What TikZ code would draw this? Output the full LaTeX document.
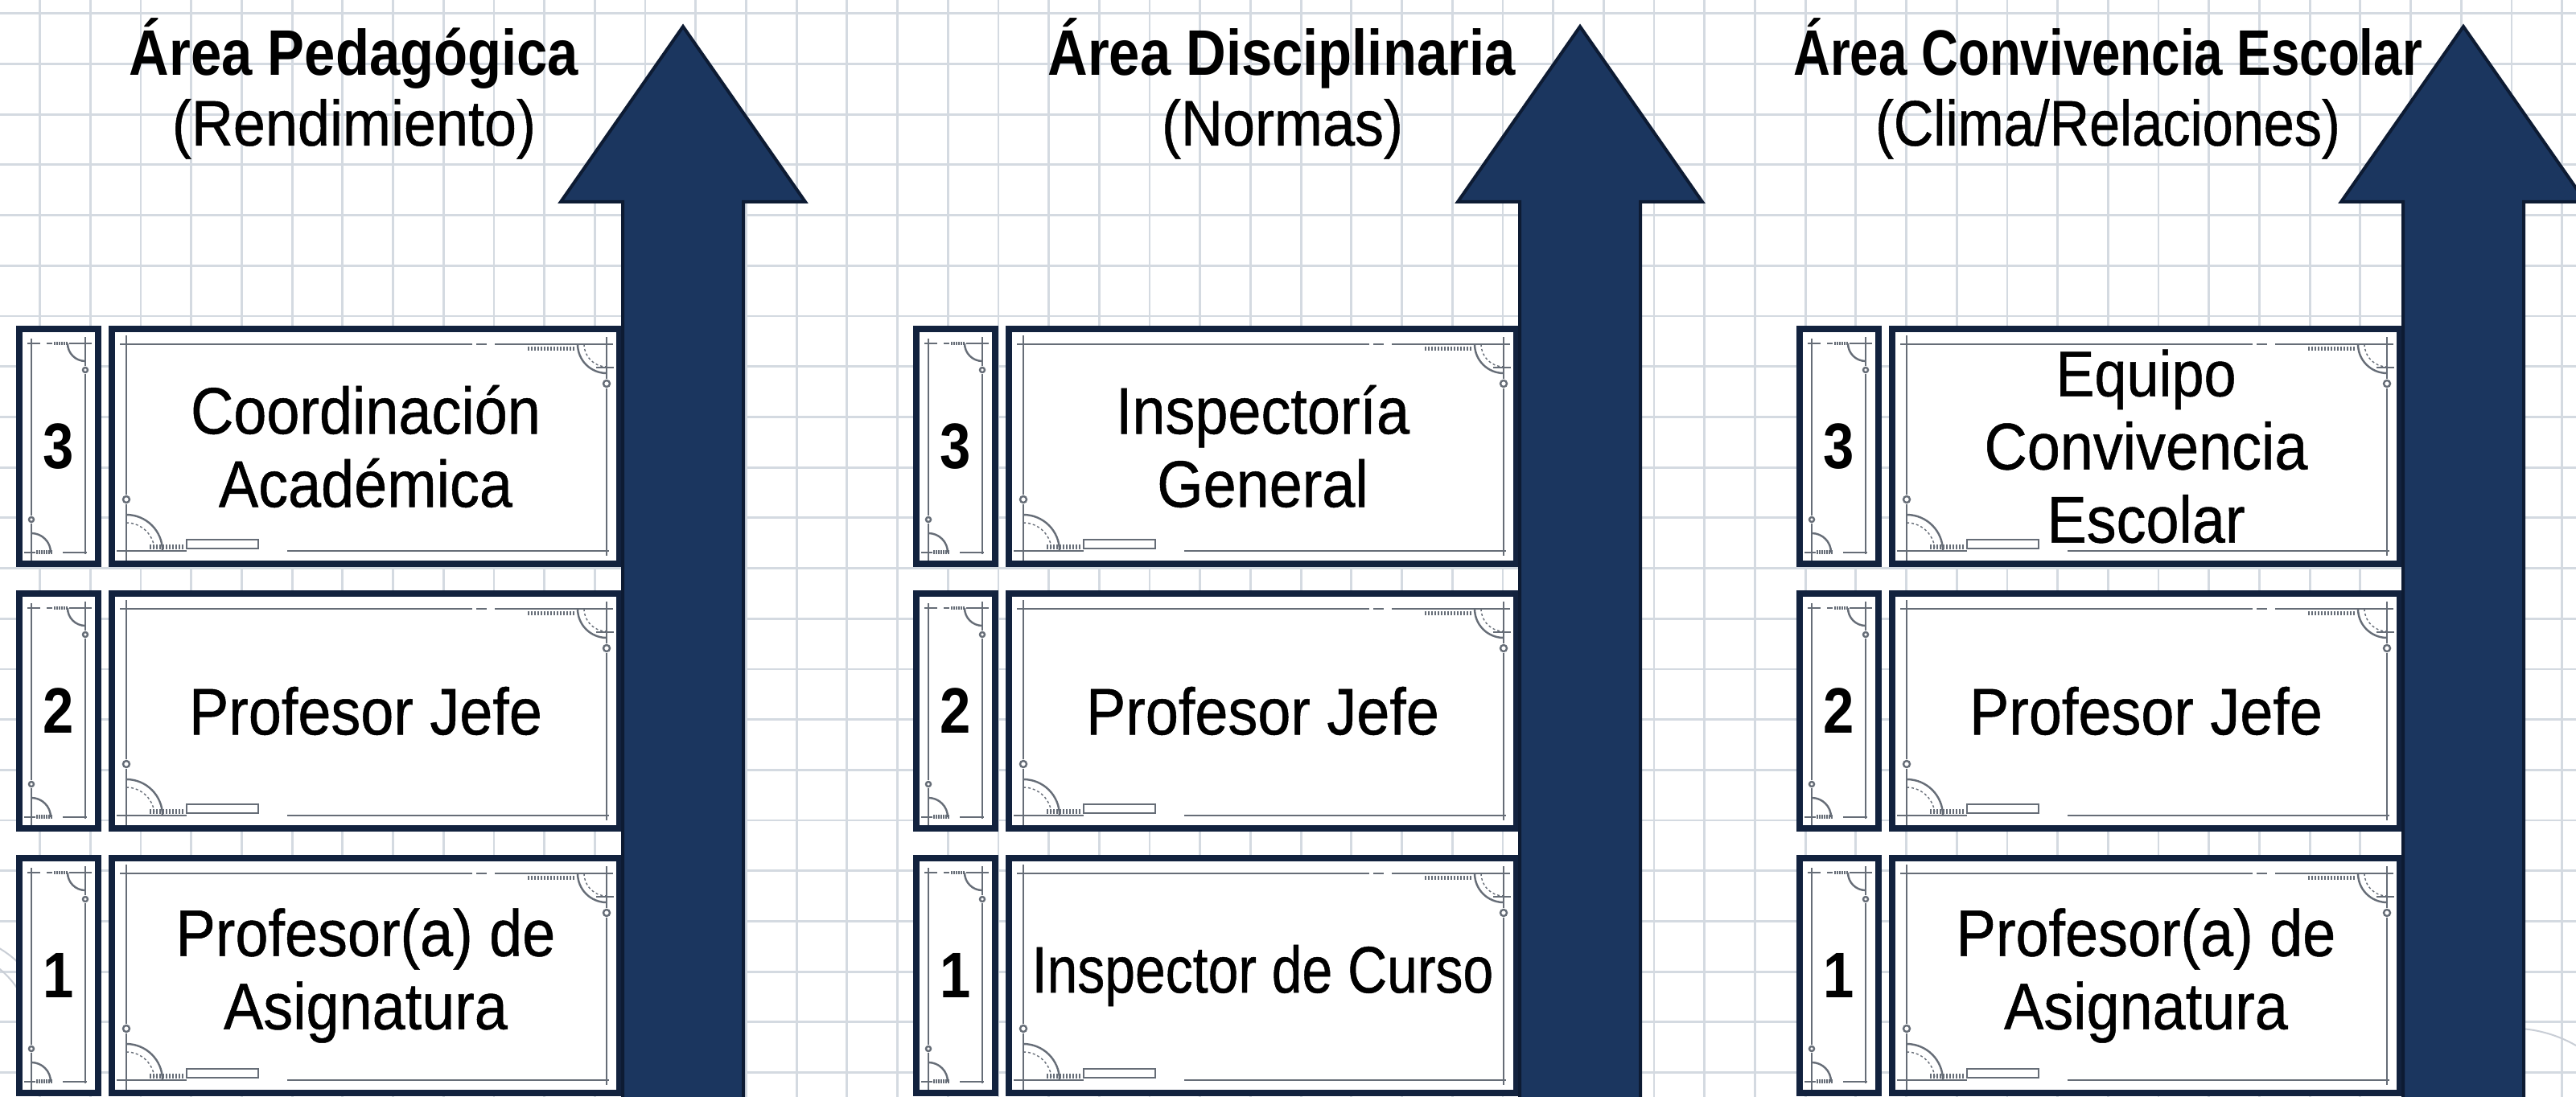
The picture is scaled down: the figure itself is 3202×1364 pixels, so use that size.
\documentclass[tikz,border=0pt]{standalone}
\usepackage{fontspec}
\usepackage{graphicx}
\usetikzlibrary{calc}
\newfontfamily\reg{Liberation Sans}[FakeStretch=0.9,FakeBold=0.6]
\newfontfamily\bld{Liberation Sans}[FakeStretch=0.86]
\definecolor{navy}{HTML}{12223E}
\definecolor{arrowc}{HTML}{1B365F}
\definecolor{arrowe}{HTML}{0D1B33}
\definecolor{gridc}{HTML}{D4DAE1}
\definecolor{decoc}{HTML}{666D77}
\definecolor{faintc}{HTML}{C9CED6}
\newcommand\boxfont{\reg\fontsize{82}{91}\selectfont}
\newcommand\numfont{\bld\bfseries\fontsize{80}{90}\selectfont}
\newcommand\titlefont{\bld\bfseries\fontsize{80}{90}\selectfont}
\newcommand\subttlfont{\reg\fontsize{80}{90}\selectfont}
\tikzset{
  gridline/.style={draw=gridc, line width=2.8},
  numbox/.style={draw=navy, line width=8, fill=white, inner sep=0, font=\numfont},
  mainbox/.style={draw=navy, line width=8, fill=white, inner sep=0, font=\boxfont, align=center},
  deco/.style={draw=decoc, line width=2.4},
  decothin/.style={draw=decoc, line width=1.4},
  faintarc/.style={draw=faintc, line width=2},
  bigarrow/.style={fill=arrowc, draw=arrowe, line width=4, line join=miter},
  ttl/.style={font=\titlefont, anchor=base, inner sep=0},
  subttl/.style={font=\subttlfont, anchor=base, inner sep=0},
}
\newcommand\maindeco[1]{%
\begin{scope}[shift={(#1.north west)}]
 \draw[deco] (14,23) -- (452,23);
 \draw[deco] (457,23) -- (470,23);
 \draw[deco] (480,23) -- (627,23);
 \foreach \t in {522,526,...,578} \draw[decothin] (\t,26) -- (\t,31);
 \draw[deco] (619,14) -- (619,66);
 \draw[deco] (619,72) circle[radius=4];
 \draw[deco] (619,78) -- (619,286);
 \draw[deco] (583,23) arc[start angle=180,end angle=90,radius=36];
 \draw[decothin,dashed] (591,23) arc[start angle=180,end angle=90,radius=28];
 \draw[decothin] (606,52) -- (628,52);
 \draw[deco] (22,12) -- (22,210);
 \draw[deco] (22,216) circle[radius=4];
 \draw[deco] (22,222) -- (22,292);
 \draw[deco] (22,235) arc[start angle=-90,end angle=0,radius=45];
 \draw[decothin,dashed] (22,245) arc[start angle=-90,end angle=0,radius=35];
 \draw[deco] (10,280) -- (97,280);
 \foreach \t in {52,56,...,94} \draw[decothin] (\t,272) -- (\t,278);
 \draw[deco] (97,266) rectangle (186,277);
 \draw[deco] (222,280) -- (622,280);
\end{scope}}
\newcommand\numdeco[1]{%
\begin{scope}[shift={(#1.north west)}]
 \draw[deco] (14,22) -- (30,22);
 \draw[deco] (38,22) -- (45,22);
 \foreach \t in {48,51,...,63} \draw[decothin] (\t,20) -- (\t,24);
 \draw[deco] (66,22) -- (94,22);
 \draw[deco] (86,14) -- (86,50);
 \draw[deco] (86,55) circle[radius=3];
 \draw[deco] (86,60) -- (86,284);
 \draw[deco] (64,22) arc[start angle=180,end angle=90,radius=22];
 \draw[deco] (19,16) -- (19,236);
 \draw[deco] (19,241) circle[radius=3];
 \draw[deco] (19,246) -- (19,292);
 \draw[deco] (19,258) arc[start angle=-90,end angle=0,radius=24];
 \draw[deco] (10,282) -- (24,282);
 \foreach \t in {26,29,...,44} \draw[decothin] (\t,279) -- (\t,284);
 \draw[deco] (58,282) -- (88,282);
\end{scope}}
\newcommand\rowset[5]{%
  \node[numbox, minimum width=98, minimum height=292] (n#1) at ({#2-776},{#3+150}) {#4};
  \node[mainbox, minimum width=631, minimum height=292] (m#1) at ({#2-394.5},{#3+150}) {#5};
  \numdeco{n#1}\maindeco{m#1}}
\newcommand\bigup[1]{%
  \draw[bigarrow] ({#1-75},1380) -- ({#1-75},251) -- ({#1-152},251) -- (#1,33)
    -- ({#1+152},251) -- ({#1+75},251) -- ({#1+75},1380) -- cycle;}
\begin{document}
\begin{tikzpicture}[x=1pt,y=-1pt]
\fill[white] (0,0) rectangle (3202,1364);
\useasboundingbox (0,0) rectangle (3202,1364);
\foreach \i in {0,...,50} { \draw[gridline] ({49.6+62.7*\i},0) -- ({49.6+62.7*\i},1364); }
\foreach \j in {0,...,21} { \draw[gridline] (0,{16.8+62.7*\j}) -- (3202,{16.8+62.7*\j}); }
% faint construction arcs in the corners
\draw[faintarc] (-70,1180) arc[start angle=-90,end angle=10,radius=110];
\draw[faintarc] (-70,1160) arc[start angle=-90,end angle=10,radius=135];
\draw[faintarc] (3202,1300) arc[start angle=-60,end angle=-120,radius=160];

% Panel 1
\rowset{13}{849}{405}{3}{Coordinación\\Académica}
\rowset{12}{849}{734}{2}{Profesor Jefe}
\rowset{11}{849}{1063}{1}{Profesor(a) de\\Asignatura}
% Panel 2
\rowset{23}{1964}{405}{3}{Inspectoría\\General}
\rowset{22}{1964}{734}{2}{Profesor Jefe}
\rowset{21}{1964}{1063}{1}{\scalebox{0.92}[1]{Inspector de Curso}}
% Panel 3
\rowset{33}{3062}{405}{3}{\fontsize{80}{86}\selectfont Equipo\\Convivencia\\Escolar}
\rowset{32}{3062}{734}{2}{Profesor Jefe}
\rowset{31}{3062}{1063}{1}{Profesor(a) de\\Asignatura}

\bigup{849}
\bigup{1964}
\bigup{3062}

\node[ttl] (t1) at (440,94) {Área Pedagógica};
\node[subttl] (s1) at (440,181) {(Rendimiento)};
\node[ttl] (t2) at (1593,94) {Área Disciplinaria};
\node[subttl] (s2) at (1594,181) {(Normas)};
\node[ttl] (t3) at (2620,94) {\scalebox{0.925}[1]{Área Convivencia Escolar}};
\node[subttl] (s3) at (2620,181) {\scalebox{0.95}[1]{(Clima/Relaciones)}};
\end{tikzpicture}
\end{document}
